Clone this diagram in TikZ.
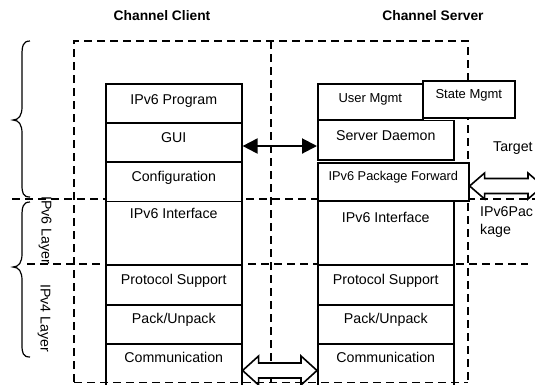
\documentclass[tikz,border=0pt]{standalone}
\usepackage{fontspec}
\setmainfont{Liberation Sans}
\usetikzlibrary{arrows.meta,calc}
\tikzset{
  cell/.style={draw, fill=white, line width=1.6pt, inner sep=0pt, anchor=north west,
    font=\fontsize{14.2}{17}\selectfont},
  dashln/.style={line width=1.6pt, dash pattern=on 8pt off 5pt},
  thindash/.style={line width=1.3pt, dash pattern=on 8pt off 5pt},
  bracestyle/.style={line width=1.2pt},
  title/.style={font=\bfseries\fontsize{13.8}{16}\selectfont},
  plain/.style={font=\fontsize{14.2}{18}\selectfont, inner sep=0pt},
  solidarrow/.style={line width=2pt, {Triangle[length=15pt,width=15pt]}-{Triangle[length=15pt,width=15pt]}},
  hollow/.style={draw, fill=white, line width=1.6pt, line join=miter}
}
\newcommand\cellbox[8][]{%
  \node[cell, minimum width=#5pt, text height=#6pt, text depth=#7pt, #1] (#2) at (#3,#4) {#8};}
\begin{document}
\begin{tikzpicture}[x=1pt, y=-1pt]
\useasboundingbox (0,0) rectangle (535,384);

% titles
\node[title] (tclient) at (162,16) {Channel Client};
\node[title] (tserver) at (433,16) {Channel Server};

% dashed frame and layer lines
\draw[dashln] (74,382) -- (74,41) -- (468,41) -- (468,382);
\draw[thindash] (271,41) -- (271,382);
\draw[dashln] (12,199) -- (535,199);
\draw[dashln] (27,264) -- (528,264);

% braces
\draw[bracestyle] (30,41) .. controls (23,41) and (22,46) .. (22,55) -- (22,107)
  .. controls (22,115) and (19,120) .. (13,120) .. controls (19,120) and (22,125) .. (22,133)
  -- (22,185) .. controls (22,193) and (23,197) .. (30,197);
\draw[bracestyle] (30,202) .. controls (23,202) and (22,207) .. (22,216) -- (22,254)
  .. controls (22,262) and (19,267) .. (13,267) .. controls (19,267) and (22,272) .. (22,280)
  -- (22,345) .. controls (22,353) and (23,357) .. (30,357);

% layer labels
\node[plain, rotate=-90] (l6) at (45,230) {IPv6 Layer};
\node[plain, rotate=-90] (l4) at (44,318) {IPv4 Layer};

% client stack
\cellbox{cprog}{105}{83}{136}{21}{18}{IPv6 Program}
\cellbox{cgui}{105}{122}{136}{20}{19}{GUI}
\cellbox{cconf}{105}{161}{136}{20}{19.5}{Configuration}
\cellbox{cif}{105}{200.5}{136}{17}{46.5}{IPv6 Interface}
\cellbox{cproto}{105}{264}{136}{20}{20}{Protocol Support}
\cellbox{cpack}{105}{304}{136}{19}{20}{Pack/Unpack}
\cellbox{ccom}{105}{343}{136}{19}{26}{Communication}

% server stack
\cellbox[font=\fontsize{13}{16}\selectfont]{suser}{317}{83}{105}{19}{17}{User Mgmt}
\cellbox[font=\fontsize{13}{16}\selectfont]{sstate}{422}{80}{92}{18}{19}{State Mgmt}
\cellbox{sdaemon}{317}{119.5}{136}{20}{19.5}{Server Daemon}
\cellbox[font=\fontsize{12.8}{16}\selectfont]{sfwd}{317}{162}{151}{18}{20}{IPv6 Package Forward}
\cellbox{sif}{317}{200.5}{136}{21}{42.5}{IPv6 Interface}
\cellbox{sproto}{317}{264}{136}{20}{20}{Protocol Support}
\cellbox{spack}{317}{304}{136}{19}{20}{Pack/Unpack}
\cellbox{scom}{317}{343}{136}{19}{26}{Communication}

% side texts
\node[plain, anchor=base west] (target) at (493,151) {Target};
\node[plain, anchor=north west, align=left] (pkg) at (480,206) {IPv6Pac\\kage};

% solid double arrow
\draw[solidarrow] (cgui.east |- 0,146) -- (sdaemon.west |- 0,146);

% hollow double arrow (bottom)
\coordinate (ha) at (ccom.east |- 0,370.5);
\coordinate (hb) at (scom.west |- 0,370.5);
\path[hollow] (ha) -- ++(16,-14.5) -- ++(0,7) -- ($(hb)+(-16,-7.5)$) -- ++(0,-7) -- (hb)
  -- ++(-16,14.5) -- ++(0,-7) -- ($(ha)+(16,7.5)$) -- ++(0,7) -- cycle;

% hollow double arrow (right)
\coordinate (ra) at (sfwd.east |- 0,186);
\coordinate (rb) at (543,186);
\path[hollow] (ra) -- ++(15,-13) -- ++(0,5.5) -- ($(rb)+(-15,-7.5)$) -- ++(0,-5.5) -- (rb)
  -- ++(-15,13) -- ++(0,-5.5) -- ($(ra)+(15,7.5)$) -- ++(0,5.5) -- cycle;

% bottom dashed edge over the boxes
\draw[dashln] (74,382.5) -- (468,382.5);
\end{tikzpicture}
\end{document}
